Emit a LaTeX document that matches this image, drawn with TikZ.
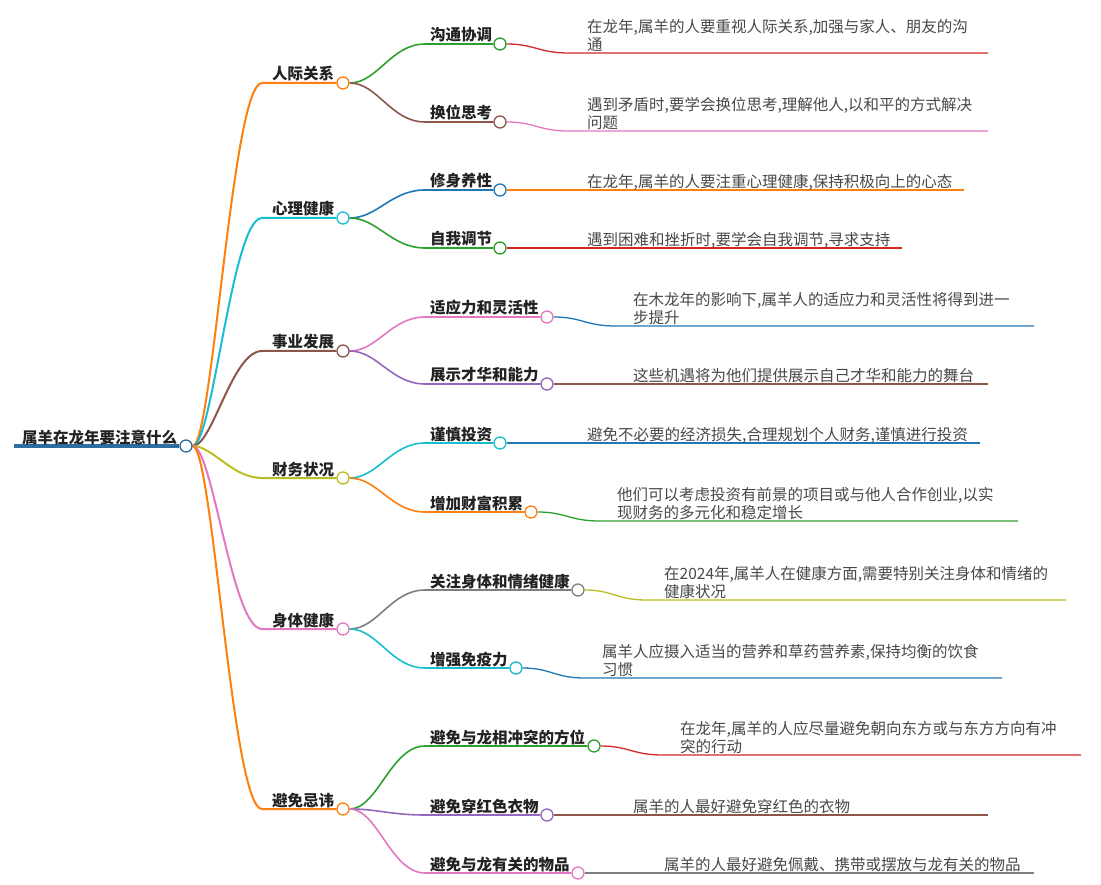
\documentclass[tikz,border=0pt]{standalone}
\usepackage{fontspec}
\setmainfont{Noto Sans CJK SC}
\usetikzlibrary{calc,backgrounds}
\definecolor{tBlue}{HTML}{1F77B4}
\definecolor{tOrange}{HTML}{FF7F0E}
\definecolor{tGreen}{HTML}{2CA02C}
\definecolor{tRed}{HTML}{D62728}
\definecolor{tPurple}{HTML}{9467BD}
\definecolor{tBrown}{HTML}{8C564B}
\definecolor{tPink}{HTML}{E377C2}
\definecolor{tGray}{HTML}{7F7F7F}
\definecolor{tOlive}{HTML}{BCBD22}
\definecolor{tCyan}{HTML}{17BECF}
\definecolor{rootBlue}{HTML}{2E6DA4}
\definecolor{headText}{HTML}{222222}
\definecolor{leafText}{HTML}{484848}
\tikzset{
  hd/.style={font=\bfseries\fontsize{15.5}{18}\selectfont, text=headText, inner sep=0pt, anchor=base west},
  leaf/.style={font=\fontsize{15.5}{18}\selectfont, text=leafText, inner sep=0pt, anchor=base west, align=left},
  dot/.style={circle, draw=#1, fill=white, line width=1.3pt, minimum size=12pt, inner sep=0pt},
  eA/.style={draw=#1, line width=2pt},
  eB/.style={draw=#1, line width=1.6pt},
  eC/.style={draw=#1, line width=1.3pt},
}
\begin{document}
\begin{tikzpicture}[x=1pt,y=-1pt]
\path[use as bounding box] (0,0) rectangle (1101,885);
% ---------- root
\node[hd] (rt) at (22,443) {属羊在龙年要注意什么};
\coordinate (r0) at (14,446);
% ---------- level 1 text and underline starts
\node[hd] (tA) at (272,80) {人际关系};
\node[hd] (tB) at (272,215) {心理健康};
\node[hd] (tC) at (272,348) {事业发展};
\node[hd] (tD) at (272,475) {财务状况};
\node[hd] (tE) at (272,626) {身体健康};
\node[hd] (tF) at (272,806) {避免忌讳};
\coordinate (uA) at (262,83);
\coordinate (uB) at (262,218);
\coordinate (uC) at (262,351);
\coordinate (uD) at (262,478);
\coordinate (uE) at (262,629);
\coordinate (uF) at (262,809);
% ---------- level 2 text
\node[hd] (tA1) at (430,41) {沟通协调};
\node[hd] (tA2) at (430,119) {换位思考};
\node[hd] (tB1) at (430,187) {修身养性};
\node[hd] (tB2) at (430,245) {自我调节};
\node[hd] (tC1) at (430,314) {适应力和灵活性};
\node[hd] (tC2) at (430,381) {展示才华和能力};
\node[hd] (tD1) at (430,440) {谨慎投资};
\node[hd] (tD2) at (430,509) {增加财富积累};
\node[hd] (tE1) at (430,587) {关注身体和情绪健康};
\node[hd] (tE2) at (430,665) {增强免疫力};
\node[hd] (tF1) at (430,743) {避免与龙相冲突的方位};
\node[hd] (tF2) at (430,812) {避免穿红色衣物};
\node[hd] (tF3) at (430,870) {避免与龙有关的物品};
\coordinate (uA1) at (425,44);
\coordinate (uA2) at (425,122);
\coordinate (uB1) at (425,190);
\coordinate (uB2) at (425,248);
\coordinate (uC1) at (425,317);
\coordinate (uC2) at (425,384);
\coordinate (uD1) at (425,443);
\coordinate (uD2) at (425,512);
\coordinate (uE1) at (425,590);
\coordinate (uE2) at (425,668);
\coordinate (uF1) at (425,746);
\coordinate (uF2) at (425,815);
\coordinate (uF3) at (425,873);
% ---------- level 3 text (base = last line)
\node[leaf] (lA1) at (587,50.5) {在龙年,属羊的人要重视人际关系,加强与家人、朋友的沟\\通};
\node[leaf] (lA2) at (587,128.5) {遇到矛盾时,要学会换位思考,理解他人,以和平的方式解决\\问题};
\node[leaf] (lB1) at (587,187.5) {在龙年,属羊的人要注重心理健康,保持积极向上的心态};
\node[leaf] (lB2) at (587,245.5) {遇到困难和挫折时,要学会自我调节,寻求支持};
\node[leaf] (lC1) at (633,323.5) {在木龙年的影响下,属羊人的适应力和灵活性将得到进一\\步提升};
\node[leaf] (lC2) at (633,381.5) {这些机遇将为他们提供展示自己才华和能力的舞台};
\node[leaf] (lD1) at (587,440.5) {避免不必要的经济损失,合理规划个人财务,谨慎进行投资};
\node[leaf] (lD2) at (617,518.5) {他们可以考虑投资有前景的项目或与他人合作创业,以实\\现财务的多元化和稳定增长};
\node[leaf] (lE1) at (664,597.5) {在2024年,属羊人在健康方面,需要特别关注身体和情绪的\\健康状况};
\node[leaf] (lE2) at (602,675.5) {属羊人应摄入适当的营养和草药营养素,保持均衡的饮食\\习惯};
\node[leaf] (lF1) at (680,752.5) {在龙年,属羊的人应尽量避免朝向东方或与东方方向有冲\\突的行动};
\node[leaf] (lF2) at (633,812.5) {属羊的人最好避免穿红色的衣物};
\node[leaf] (lF3) at (664,870.5) {属羊的人最好避免佩戴、携带或摆放与龙有关的物品};
\coordinate (eA1) at (988,53);
\coordinate (eA2) at (988,131);
\coordinate (eB1) at (964,190);
\coordinate (eB2) at (902,248);
\coordinate (eC1) at (1034,326);
\coordinate (eC2) at (988,384);
\coordinate (eD1) at (980,443);
\coordinate (eD2) at (1018,521);
\coordinate (eE1) at (1066,600);
\coordinate (eE2) at (1002,678);
\coordinate (eF1) at (1081,755);
\coordinate (eF2) at (988,815);
\coordinate (eF3) at (1034,873);
% ---------- circles
\node[dot=rootBlue] (r) at (186,446) {};
\node[dot=tOrange] (A) at (343,83) {};
\node[dot=tCyan] (B) at (343,218) {};
\node[dot=tBrown] (C) at (343,351) {};
\node[dot=tOlive] (D) at (343,478) {};
\node[dot=tPink] (E) at (343,629) {};
\node[dot=tOrange] (F) at (343,809) {};
\node[dot=tGreen] (A1) at (500,44) {};
\node[dot=tBrown] (A2) at (500,122) {};
\node[dot=tBlue] (B1) at (500,190) {};
\node[dot=tGreen] (B2) at (500,248) {};
\node[dot=tPink] (C1) at (547,317) {};
\node[dot=tPurple] (C2) at (547,384) {};
\node[dot=tCyan] (D1) at (500,443) {};
\node[dot=tOrange] (D2) at (531,512) {};
\node[dot=tGray] (E1) at (578,590) {};
\node[dot=tCyan] (E2) at (516,668) {};
\node[dot=tGreen] (F1) at (594,746) {};
\node[dot=tPurple] (F2) at (547,815) {};
\node[dot=tPink] (F3) at (578,873) {};
% ---------- connectors (behind circles)
\begin{scope}[on background layer]
\draw[draw=rootBlue, line width=4pt] (r0) -- (r.west);
\foreach \n/\c in {A/tOrange,B/tCyan,C/tBrown,D/tOlive,E/tPink,F/tOrange}{
  \draw[eA=\c] (r.east) .. controls ($(r.east)+(20,0)$) and ($(u\n)+(-30,0)$) .. (u\n) -- (\n.west);
}
\foreach \p/\n/\c in {A/A1/tGreen,A/A2/tBrown,B/B1/tBlue,B/B2/tGreen,C/C1/tPink,C/C2/tPurple,D/D1/tCyan,D/D2/tOrange,E/E1/tGray,E/E2/tCyan,F/F1/tGreen,F/F2/tPurple,F/F3/tPink}{
  \draw[eB=\c] (\p.east) .. controls ($(\p.east)+(28,0)$) and ($(u\n)+(-34,0)$) .. (u\n) -- (\n.west);
}
\foreach \n/\c in {A1/tRed,A2/tPink,B1/tOrange,B2/tRed,C1/tBlue,C2/tBrown,D1/tBlue,D2/tGreen,E1/tOlive,E2/tBlue,F1/tRed,F2/tBrown,F3/tGray}{
  \path (\n.east) ++(62,0) coordinate (m\n);
  \draw[eC=\c] (\n.east) .. controls ($(\n.east)+(28,0)$) and ($(m\n |- e\n)+(-30,0)$) .. (m\n |- e\n) -- (e\n);
}
\end{scope}
\end{tikzpicture}
\end{document}
